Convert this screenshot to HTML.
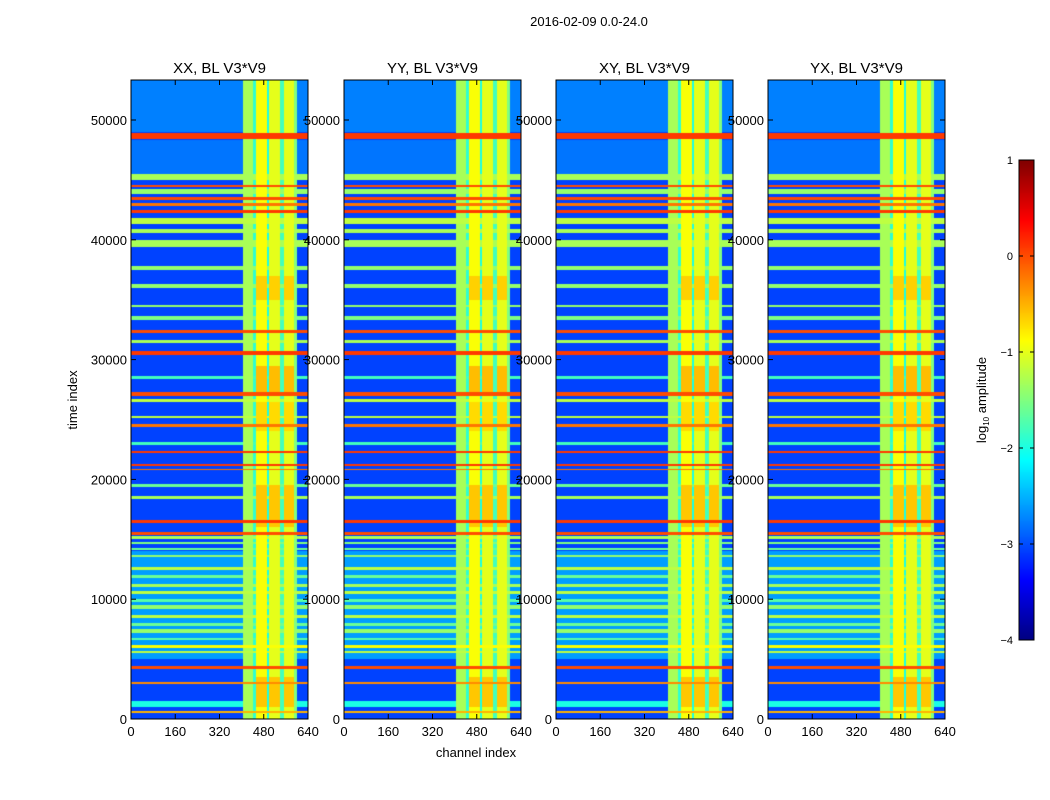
<!DOCTYPE html>
<html><head><meta charset="utf-8">
<style>
body{margin:0;background:#fff;width:1050px;height:800px;overflow:hidden;font-family:"Liberation Sans",sans-serif;}
#wrap{position:relative;width:1050px;height:800px;}
canvas,svg{position:absolute;left:0;top:0;}
</style></head>
<body>
<div id="wrap">
<canvas id="cv" width="1050" height="800"></canvas>
<svg id="sv" width="1050" height="800"></svg>
</div>
<script>
// time bands (thousands of time index)
const rowStart = [49.0,48.4,45.5,45.0,44.4,43.8,43.3,42.8,42.2,41.3,40.6,39.4,37.5,36.0,34.4,33.3,32.2,31.4,30.4,28.4,27.0,26.5,25.1,24.4,22.9,22.2,21.1,20.75,19.4,18.4,16.4,15.4,15.0,14.6,14.1,13.5,12.4,11.8,11.0,10.4,9.8,9.2,8.4,7.8,7.2,6.6,5.9,5.5,4.2,2.9,1.0,0.5];
const rowEnd   = [53.4,48.9,48.3,45.5,44.6,44.2,43.6,43.1,42.5,41.8,40.9,40.0,37.8,36.3,34.6,33.6,32.5,31.6,30.7,28.6,27.3,26.7,25.3,24.6,23.1,22.4,21.3,20.9,19.6,18.6,16.6,15.6,15.3,14.8,14.3,13.7,12.7,12.0,11.3,10.7,10.0,9.5,8.7,8.0,7.5,6.8,6.2,5.7,4.4,3.1,1.5,0.7];
const rowLevel = [-2.75,0.1,-2.8,-1.3,0.0,-1.4,0.0,-0.2,0.1,-1.2,-1.3,-1.3,-1.4,-1.4,-1.4,-1.5,0.0,-1.3,0.1,-1.8,0.0,-1.2,-1.2,-0.2,-1.8,0.1,0.1,-0.2,-1.6,-1.3,0.1,0.0,-1.3,-1.5,-1.6,-1.4,-1.2,-1.6,-1.3,-1.2,-1.7,-1.4,-1.2,-1.6,-1.4,-1.7,-0.9,-1.2,0.0,-0.3,-2.0,-0.5];
const backgroundLevel = -3.05;
const midBandLevel = -2.6;
// channel bands
const colStart = [405,440,452,492,500,540,552,590];
const colEnd   = [440,452,492,500,540,552,590,600];
const colLevel = [-1.3,-1.9,-0.9,-2.0,-1.0,-1.8,-1.0,-1.5];
// time patches where bright channels turn orange
const patchStart = [27.0,35.0,16.0,1.0,24.0];
const patchEnd   = [29.5,37.0,19.5,3.5,26.5];
const patchLevel = [-0.55,-0.65,-0.6,-0.6,-0.7];
const xTicks = [0,160,320,480,640];
const yTicks = [0,10000,20000,30000,40000,50000];
const cbTicks = [1,0,-1,-2,-3,-4];
const titles = ["XX, BL V3*V9","YY, BL V3*V9","XY, BL V3*V9","YX, BL V3*V9"];
const panelLeft = [131,344,556,768];

const PW=177, PT=80, PB=719, TMAX=53.34, VMIN=-4, VMAX=1;
function xs(ch){return ch/640*PW;}
function ys(t){return PB-(t/TMAX)*(PB-PT);}
function jet(v){
  let t=(v-VMIN)/(VMAX-VMIN); t=Math.max(0,Math.min(1,t));
  const f=x=>Math.round(255*Math.max(0,Math.min(1,1.5-Math.abs(4*t-x))));
  return [f(3),f(2),f(1)];
}
function rowVal(t){
  let v=(t>5&&t<14)?midBandLevel:backgroundLevel;
  for(let i=0;i<rowStart.length;i++) if(t>=rowStart[i]&&t<rowEnd[i]) v=rowLevel[i];
  return v;
}
function colVal(ch,t){
  for(let i=0;i<colStart.length;i++) if(ch>=colStart[i]&&ch<colEnd[i]){
    let c=colLevel[i];
    if(c>-1.1){for(let j=0;j<patchStart.length;j++) if(t>=patchStart[j]&&t<patchEnd[j]) c=patchLevel[j];}
    return c;
  }
  return null;
}
const ctx=document.getElementById('cv').getContext('2d');
const H=PB-PT;
const img=ctx.createImageData(PW,H);
for(let py=0;py<H;py++){
  const t=(PB-(PT+py+0.5))/(PB-PT)*TMAX;
  const r=rowVal(t);
  for(let px=0;px<PW;px++){
    const ch=(px+0.5)/PW*640;
    const c=colVal(ch,t);
    let v=r;
    if(c!==null){ v = (r>-0.6)? r : Math.max(r,c); }
    const col=jet(v); const k=(py*PW+px)*4;
    img.data[k]=col[0];img.data[k+1]=col[1];img.data[k+2]=col[2];img.data[k+3]=255;
  }
}
for(const L of panelLeft) ctx.putImageData(img,L,PT);
// colorbar
for(let y=160;y<640;y++){const c=jet(VMAX-(y-160)/480*(VMAX-VMIN));ctx.fillStyle=`rgb(${c})`;ctx.fillRect(1019,y,15,1);}

const svg=document.getElementById('sv');const NS="http://www.w3.org/2000/svg";
function el(tag,attrs,txt){const e=document.createElementNS(NS,tag);for(const k in attrs)e.setAttribute(k,attrs[k]);if(txt!==undefined)e.textContent=txt;svg.appendChild(e);return e;}
let e;
e=el('text',{x:589,y:26,'font-size':13,'text-anchor':'middle'},'2016-02-09 0.0-24.0');


panelLeft.forEach((L,p)=>{
  e=el('rect',{x:L,y:PT,width:PW,height:H,fill:'none',stroke:'#000','stroke-width':1});
  
  
  e=el('text',{x:L+PW/2,y:73,'font-size':15,'text-anchor':'middle'},titles[p]);
  
  
  xTicks.forEach(v=>{const x=L+xs(v);
    el('line',{x1:x,x2:x,y1:PB,y2:PB-5,stroke:'#000'});el('line',{x1:x,x2:x,y1:PT,y2:PT+5,stroke:'#000'});
    e=el('text',{x:x,y:PB+17,'font-size':13,'text-anchor':'middle'},v);
    
    
  });
  yTicks.forEach(v=>{const y=ys(v/1000);
    el('line',{x1:L,x2:L+5,y1:y,y2:y,stroke:'#000'});el('line',{x1:L+PW,x2:L+PW-5,y1:y,y2:y,stroke:'#000'});
    e=el('text',{x:L-4,y:y+5,'font-size':13,'text-anchor':'end'},v);
    
    
  });
});
e=el('text',{x:476,y:757,'font-size':13,'text-anchor':'middle'},'channel index');


e=el('text',{x:0,y:0,'font-size':13,'text-anchor':'middle',transform:'translate(77,400) rotate(-90)'},'time index');


e=el('rect',{x:1019,y:160,width:15,height:480,fill:'none',stroke:'#000'});


cbTicks.forEach(v=>{const y=160+(VMAX-v)/(VMAX-VMIN)*480;
  el('line',{x1:1019,x2:1023,y1:y,y2:y,stroke:'#000'});el('line',{x1:1034,x2:1030,y1:y,y2:y,stroke:'#000'});
  e=el('text',{x:1013,y:y+4,'font-size':11,'text-anchor':'end'},v<0?'\u2212'+(-v):String(v));
  
  
});
e=el('text',{x:0,y:0,'font-size':13,'text-anchor':'middle',transform:'translate(986,400) rotate(-90)'});


e.innerHTML='log<tspan font-size="8" dy="3">10</tspan><tspan dy="-3"> amplitude</tspan>';
</script>
</body></html>
